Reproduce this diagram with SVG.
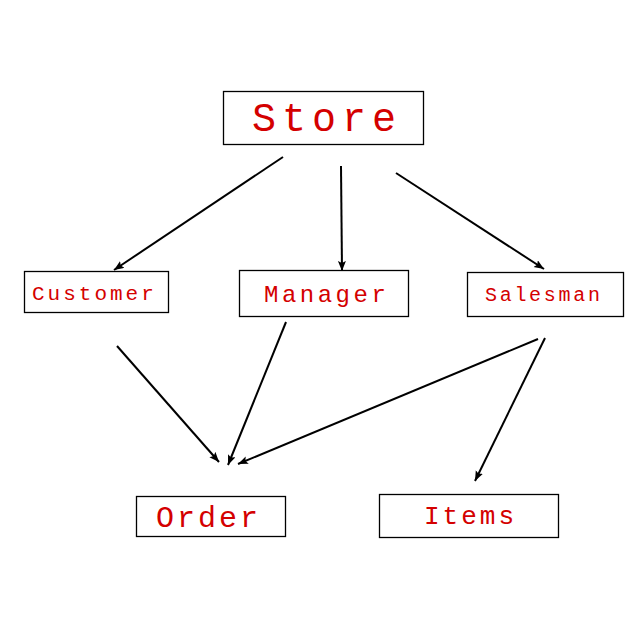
<svg xmlns="http://www.w3.org/2000/svg" width="640" height="640" viewBox="0 0 640 640">
<style>
.box{fill:#fff;stroke:#000;stroke-width:1.3}
.lbl{font-family:"Liberation Mono","Courier New",monospace;fill:#d40000}
.edge{stroke:#000;stroke-width:2;fill:none;marker-end:url(#ah)}
</style>
<defs>
<marker id="ah" markerUnits="userSpaceOnUse" markerWidth="11" markerHeight="9" refX="10" refY="4" orient="auto">
<path d="M0,0 L10,4 L0,8 L2,4 z" fill="#000"/>
</marker>
</defs>
<rect width="640" height="640" fill="#fff"/>
<g id="connectors">
<line class="edge" x1="283" y1="157" x2="114" y2="270"/>
<line class="edge" x1="341" y1="166" x2="342" y2="271"/>
<line class="edge" x1="396" y1="173" x2="544" y2="269"/>
<line class="edge" x1="117" y1="346" x2="219" y2="462"/>
<line class="edge" x1="286" y1="322" x2="228" y2="465"/>
<line class="edge" x1="538" y1="339" x2="238" y2="464"/>
<line class="edge" x1="545" y1="338" x2="475" y2="481"/>
</g>
<g id="store">
<rect class="box" x="223.5" y="91.5" width="200" height="53"/>
<text class="lbl" x="252" y="131" font-size="40" letter-spacing="6">Store</text>
</g>
<g id="customer">
<rect class="box" x="24.5" y="271.5" width="144" height="41"/>
<text class="lbl" x="32" y="300" font-size="21" letter-spacing="3">Customer</text>
</g>
<g id="manager">
<rect class="box" x="239.5" y="270.5" width="169" height="46"/>
<text class="lbl" x="264" y="302" font-size="24" letter-spacing="3.5">Manager</text>
</g>
<g id="salesman">
<rect class="box" x="467.5" y="272.5" width="156" height="44"/>
<text class="lbl" x="485" y="301" font-size="20" letter-spacing="2.7">Salesman</text>
</g>
<g id="order">
<rect class="box" x="136.5" y="496.5" width="149" height="40"/>
<text class="lbl" x="156" y="527" font-size="30" letter-spacing="3">Order</text>
</g>
<g id="items">
<rect class="box" x="379.5" y="494.5" width="179" height="43"/>
<text class="lbl" x="424" y="524" font-size="26" letter-spacing="3">Items</text>
</g>
</svg>
